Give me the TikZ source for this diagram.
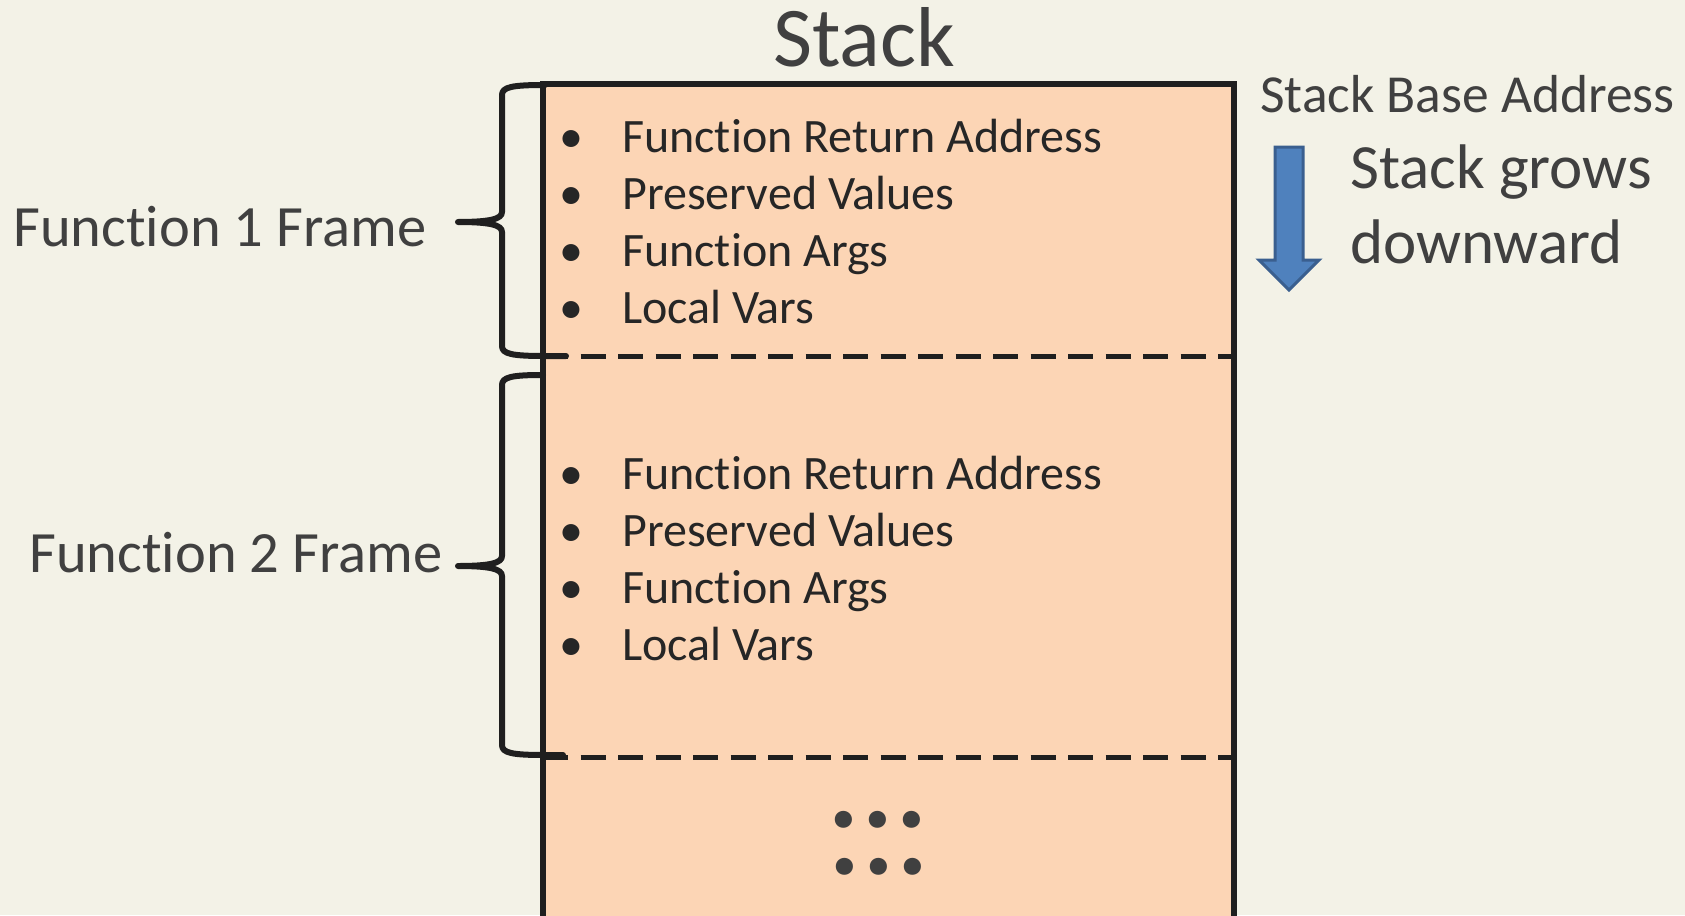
\documentclass[tikz,border=0pt]{standalone}
\usepackage{fontspec}
\setmainfont{Carlito}[Ligatures=NoCommon]
\usetikzlibrary{positioning}

\definecolor{bgcol}{HTML}{F3F2E7}
\definecolor{stackfill}{HTML}{FCD5B5}
\definecolor{labeltext}{HTML}{404040}
\definecolor{listtext}{HTML}{262626}
\definecolor{inkcol}{HTML}{1F1F1F}
\definecolor{arrowfill}{HTML}{4F81BD}
\definecolor{arrowline}{HTML}{3A5F8F}

\begin{document}
\begin{tikzpicture}[x=1pt,y=-1pt]

  % Definitions
  \tikzstyle{Label} = [inner sep=0pt, text=labeltext]
  \tikzstyle{Item} = [inner sep=0pt, anchor=base west, text=listtext, font=\fontsize{48}{56}\selectfont]
  \tikzstyle{Bullet} = [inner sep=0pt, anchor=base, text=listtext, font=\fontsize{48}{56}\selectfont]
  \tikzstyle{Dots} = [Label, anchor=base, text height=18pt, text depth=0pt, font=\bfseries\fontsize{115}{120}\selectfont]
  \tikzstyle{brace} = [line width=6pt, draw=inkcol, line cap=round, line join=round]
  \tikzstyle{divider} = [line width=5pt, draw=inkcol, dash pattern=on 25pt off 12.5pt]

  \fill[bgcol] (0,0) rectangle (1685,915);
  \useasboundingbox (0,0) rectangle (1685,915);

  % the stack itself
  \fill[stackfill] (543,84) rectangle (1234,925);
  \draw[divider] (543,356) -- (1234,356);
  \draw[divider] (543,757) -- (1234,757);

  % braces on the left
  \draw[brace] (545,85) .. controls (512,85) and (502,87) .. (502,95) -- (502,212)
    .. controls (502,219) and (490,222) .. (458,222)
    .. controls (490,222) and (502,225) .. (502,232) -- (502,346)
    .. controls (502,354) and (512,356) .. (545,356) -- (566,356);
  \draw[brace] (543,375) .. controls (512,375) and (502,377) .. (502,385) -- (502,556)
    .. controls (502,563) and (490,566) .. (458,566)
    .. controls (490,566) and (502,569) .. (502,576) -- (502,745)
    .. controls (502,753) and (512,755) .. (545,755) -- (563,755);

  \draw[line width=5.5pt, draw=inkcol] (543,925) -- (543,84) -- (1234,84) -- (1234,925);

  % growth arrow
  \filldraw[fill=arrowfill, draw=arrowline, line width=3pt, line join=miter]
    (1275,147) -- (1303,147) -- (1303,260) -- (1319,260) -- (1289,290)
    -- (1259,260) -- (1275,260) -- cycle;

  \node (title) [Label, anchor=base, font=\fontsize{85}{90}\selectfont] at (864,67) {Stack};
  \node (base) [Label, anchor=base west, font=\fontsize{53.5}{60}\selectfont] at (1260,113) {Stack Base Address};
  \node (grows) [Label, anchor=base west, align=left, font=\fontsize{63}{75}\selectfont] at (1350,263) {Stack grows\\downward};

  \node (frameA) [Label, anchor=base west, font=\fontsize{58.5}{66}\selectfont] at (13,246) {Function 1 Frame};
  \node (frameB) [Label, anchor=base west, font=\fontsize{58.5}{66}\selectfont] at (29,572) {Function 2 Frame};

  \foreach \txt [count=\i] in {Function Return Address, Preserved Values, Function Args, Local Vars} {
    \node (dotA\i) [Bullet] at (571,95+57*\i) {\textbullet};
    \node (itemA\i) [Item] at (622,95+57*\i) {\txt};
    \node (dotB\i) [Bullet] at (571,432+57*\i) {\textbullet};
    \node (itemB\i) [Item] at (622,432+57*\i) {\txt};
  }

  \node (moreA) [Dots] at (878,827) {.\kern3pt.\kern3pt.};
  \node (moreB) [Dots] at (879,874) {.\kern3pt.\kern3pt.};

\end{tikzpicture}
\end{document}
